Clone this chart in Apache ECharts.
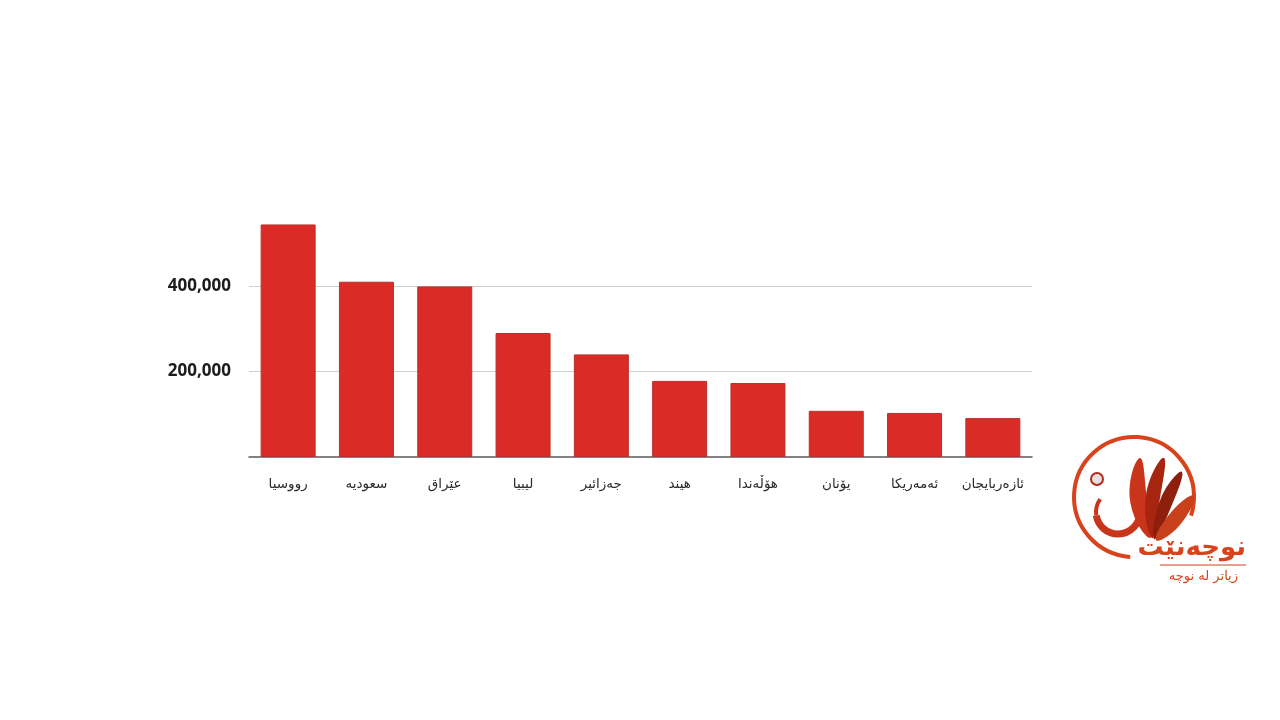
<!DOCTYPE html>
<html>
<head>
<meta charset="utf-8">
<script src="https://cdn.jsdelivr.net/npm/echarts@6/dist/echarts.min.js"></script>
<style>
html,body{margin:0;padding:0;background:#ffffff;}
#chart{width:1280px;height:720px;}
</style>
</head>
<body>
<div id="chart"></div>
<script>
// Data
const categories = ['رووسیا', 'سعودیە', 'عێراق', 'لیبیا', 'جەزائیر', 'هیند', 'هۆڵەندا', 'یۆنان', 'ئەمەریکا', 'ئازەربایجان'];
const values = [544000, 410000, 399000, 290000, 240000, 178000, 173000, 108000, 103000, 91000];
const yTickLabels = [200000, 400000];
const brandName = 'نوچەنێت';
const brandSlogan = 'زیاتر لە نوچە';

const chart = echarts.init(document.getElementById('chart'));
const logoColor = '#d8431c';

chart.setOption({
  backgroundColor: '#ffffff',
  animation: false,
  grid: { left: 249, right: 248, top: 200.5, bottom: 263 },
  xAxis: {
    type: 'category',
    data: categories,
    axisLine: { show: true, lineStyle: { color: '#5a5a5a', width: 1.5 } },
    axisTick: { show: false },
    axisLabel: {
      color: '#2b2b2b',
      fontSize: 13.5,
      fontFamily: 'DejaVu Sans, Noto Sans, sans-serif',
      margin: 20,
      interval: 0
    }
  },
  yAxis: {
    type: 'value',
    min: 0,
    max: 600000,
    interval: 200000,
    axisLine: { show: false },
    axisTick: { show: false },
    axisLabel: {
      color: '#1c1c1c',
      fontSize: 17,
      fontWeight: 'bold',
      fontFamily: 'Open Sans, sans-serif',
      margin: 18,
      formatter: function (v) {
        return yTickLabels.indexOf(v) >= 0 ? v.toLocaleString('en-US') : '';
      }
    },
    splitLine: {
      show: true,
      lineStyle: { color: ['rgba(0,0,0,0)', '#cfcfcf', '#cfcfcf', 'rgba(0,0,0,0)'], width: 1.2 }
    }
  },
  series: [{
    type: 'bar',
    data: values,
    barWidth: 55,
    itemStyle: { color: '#da2b27', borderColor: '#b8302c', borderWidth: 1 }
  }],
  graphic: [
    // logo ring (with gap at lower right)
    { type: 'arc', shape: { cx: 1134, cy: 497, r: 60, startAngle: Math.PI * 0.52, endAngle: Math.PI * 2.1, clockwise: true },
      style: { stroke: logoColor, lineWidth: 4, fill: null } },
    // stylised leaves
    { type: 'polygon', shape: { smooth: 0.5, points: [[1150, 538], [1130, 500], [1140, 458], [1147, 500]] },
      style: { fill: '#c9351a' } },
    { type: 'polygon', shape: { smooth: 0.5, points: [[1152, 538], [1146, 495], [1164, 458], [1159, 505]] },
      style: { fill: '#a8250f' } },
    { type: 'polygon', shape: { smooth: 0.5, points: [[1154, 539], [1161, 498], [1182, 472], [1169, 512]] },
      style: { fill: '#8e1f0c' } },
    { type: 'polygon', shape: { smooth: 0.5, points: [[1156, 540], [1173, 510], [1194, 496], [1179, 526]] },
      style: { fill: '#c9401c' } },
    // letter-like curve on the left
    { type: 'arc', shape: { cx: 1118, cy: 512, r: 22, startAngle: Math.PI * 0.0, endAngle: Math.PI * 0.95, clockwise: true },
      style: { stroke: '#c9351a', lineWidth: 7, fill: null } },
    { type: 'arc', shape: { cx: 1118, cy: 512, r: 22, startAngle: Math.PI * 0.95, endAngle: Math.PI * 1.2, clockwise: true },
      style: { stroke: '#c9351a', lineWidth: 4, fill: null } },
    // small globe
    { type: 'circle', shape: { cx: 1097, cy: 479, r: 6 }, style: { fill: '#e8e0e0', stroke: '#b42a1a', lineWidth: 2 } },
    // brand texts
    { type: 'text', x: 1246, y: 548, style: { text: brandName, fill: logoColor, font: 'bold 26px DejaVu Sans, sans-serif', align: 'right', verticalAlign: 'middle' } },
    { type: 'line', shape: { x1: 1160, y1: 565, x2: 1246, y2: 565 }, style: { stroke: logoColor, lineWidth: 1.2 } },
    { type: 'text', x: 1238, y: 577, style: { text: brandSlogan, fill: logoColor, font: '13px DejaVu Sans, sans-serif', align: 'right', verticalAlign: 'middle' } }
  ]
});
</script>
</body>
</html>
